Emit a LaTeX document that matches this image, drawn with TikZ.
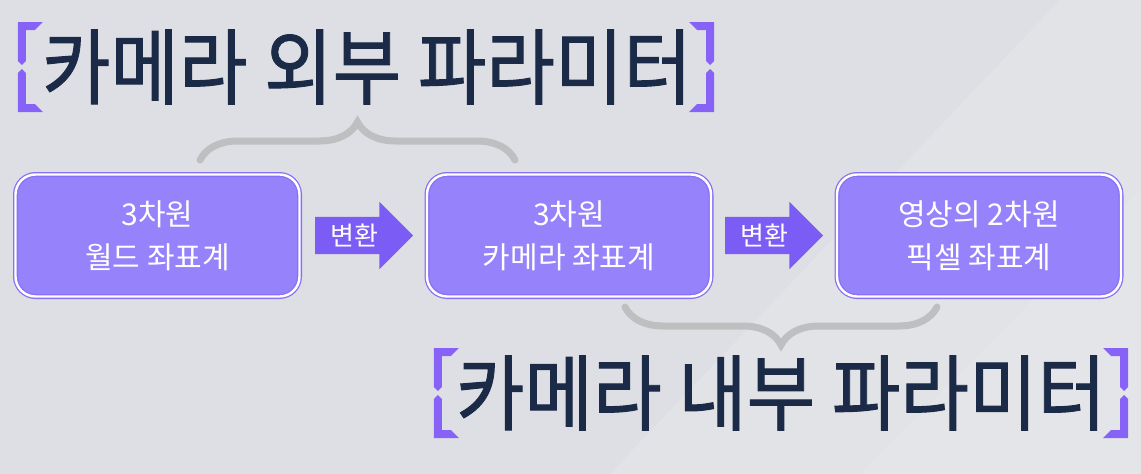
\documentclass[tikz,border=0pt]{standalone}
\usepackage{fontspec}
\setmainfont{Noto Sans CJK KR}
\newfontfamily\titlefont{Noto Sans CJK KR}[FakeBold=1.2]
\usepackage{tikz}
\usetikzlibrary{positioning,calc,shapes.arrows,decorations.pathreplacing}

\definecolor{bgcol}{HTML}{DEDFE4}
\definecolor{boxfill}{HTML}{9682FA}
\definecolor{boxedge}{HTML}{8A70F6}
\definecolor{arrowfill}{HTML}{7B5CF5}
\definecolor{markfill}{HTML}{8762F6}
\definecolor{titleink}{HTML}{1B2A46}
\definecolor{bracegray}{HTML}{BFBFC1}

\tikzset{
  sidemark/.pic={
    \fill[markfill] (0,-45) -- (25,-45) -- (17,-37) -- (8,-37) -- (8,-6) -- (4,-2) -- (0,-6) -- cycle;
    \fill[markfill] (0,45) -- (25,45) -- (17,37) -- (8,37) -- (8,6) -- (4,2) -- (0,6) -- cycle;
  }
}
\newcommand\tallline[1]{\scalebox{1.02}[1.13]{#1}}

\begin{document}
\begin{tikzpicture}[x=1pt,y=-1pt,
  coordbox/.style={rounded corners=20pt,fill=boxfill,draw=boxedge,double=white,
    double distance=2.4pt,line width=1.3pt,minimum width=284pt,minimum height=122pt,
    text=white,align=center,font=\fontsize{30}{43}\selectfont},
  convarrow/.style={single arrow,fill=arrowfill,text=white,font=\fontsize{26}{26}\selectfont,
    single arrow head extend=15pt,single arrow head indent=0pt,minimum height=98pt,
    inner xsep=4pt,inner ysep=7pt},
  paramtitle/.style={text=titleink,font=\fontsize{73}{73}\titlefont,inner sep=0pt},
  paramgroup/.style={draw=bracegray,line width=7pt,line cap=round,decorate,
    decoration={brace,amplitude=38pt}}]
% background
\fill[bgcol] (0,0) rectangle (1141,474);
\useasboundingbox (0,0) rectangle (1141,474);
\fill[white,opacity=0.14] (610,474) -- (1060,0) -- (1141,0) -- (1141,474) -- cycle;
\fill[white,opacity=0.10] (860,474) -- (1141,190) -- (1141,474) -- cycle;
% coordinate systems
\node[coordbox] (world) at (157.5,235.5) {3차원\\월드 좌표계};
\node[coordbox] (cam) at (569,235.5) {3차원\\카메라 좌표계};
\node[coordbox] (pix) at (979,235.5) {영상의 2차원\\픽셀 좌표계};
\node[convarrow,anchor=tip] (tr1) at ($(cam.west)+(-13,0)$) {변환};
\node[convarrow,anchor=tip] (tr2) at ($(pix.west)+(-13,0)$) {변환};
% extrinsic / intrinsic
\coordinate (extL) at (200,160);
\coordinate (extR) at (515,160);
\coordinate (intL) at (625,307);
\coordinate (intR) at (937,307);
\draw[paramgroup] (extL) -- (extR);
\draw[paramgroup,decoration={mirror}] (intL) -- (intR);
\node[paramtitle] (extT) at (367,67) {\tallline{카메라 외부 파라미터}};
\node[paramtitle] (intT) at (781,393) {\tallline{카메라 내부 파라미터}};
\pic at ($(extT.west)+(-24,0)$) {sidemark};
\pic[xscale=-1] at ($(extT.east)+(22,0)$) {sidemark};
\pic at ($(intT.west)+(-22,0)$) {sidemark};
\pic[xscale=-1] at ($(intT.east)+(22,0)$) {sidemark};
\end{tikzpicture}
\end{document}
